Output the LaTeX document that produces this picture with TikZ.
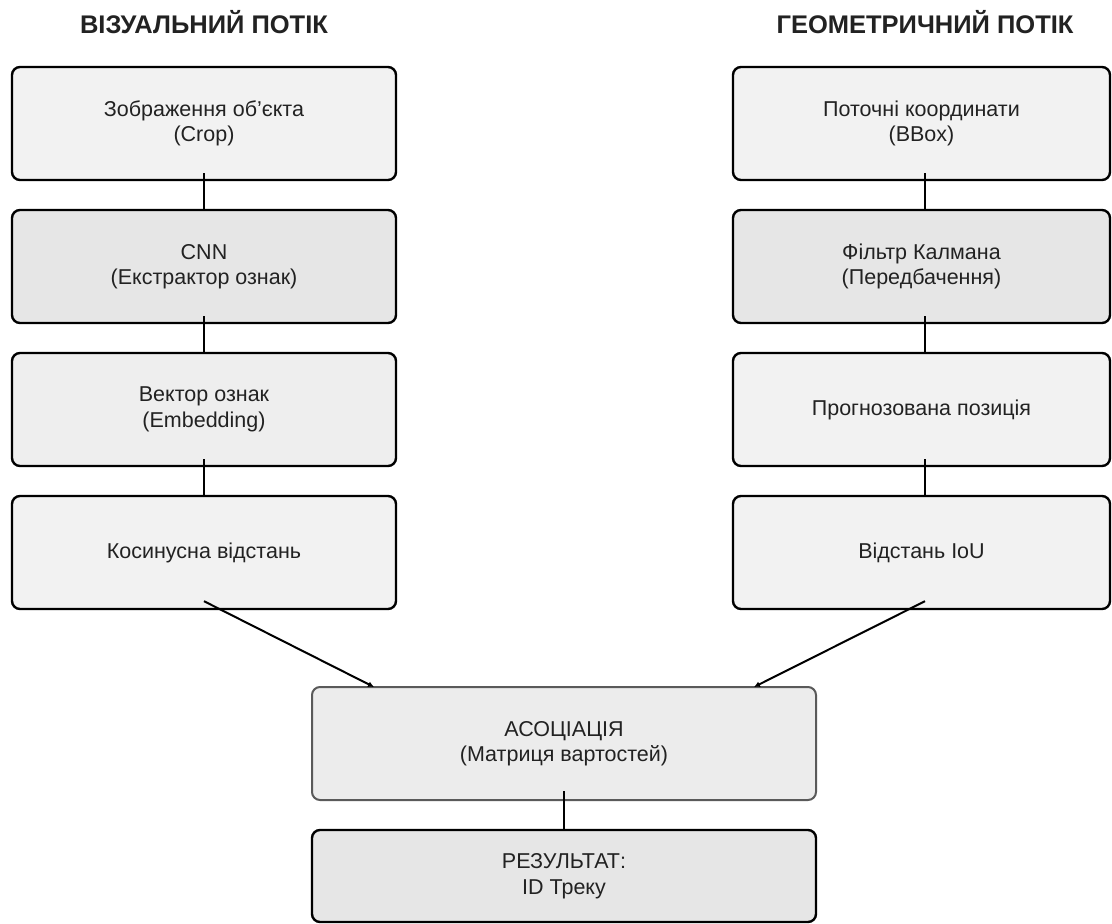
\documentclass[tikz,border=0pt]{standalone}
\usepackage{fontspec}
\setmainfont{Liberation Sans}
\usetikzlibrary{arrows.meta}
\definecolor{boxlight}{HTML}{F2F2F2}
\definecolor{boxmid}{HTML}{E6E6E6}
\definecolor{boxvec}{HTML}{EEEEEE}
\definecolor{boxassoc}{HTML}{ECECEC}
\definecolor{assocborder}{HTML}{5A5A5A}
\definecolor{txt}{HTML}{222222}
\tikzset{
  stepbox/.style={draw=black, line width=2.4pt, rounded corners=8pt, rectangle,
    minimum height=113pt, inner sep=0pt, align=center, text=txt,
    font=\fontsize{21.5}{25.5}\selectfont},
  leftbox/.style={stepbox, minimum width=384pt},
  rightbox/.style={stepbox, minimum width=377pt},
  title/.style={font=\fontsize{25.5}{30}\selectfont\bfseries, text=txt},
  conn/.style={draw=black, line width=2pt},
  diag/.style={draw=black, line width=2pt, -{Latex[length=6pt,width=6pt]}}
}
\begin{document}
\begin{tikzpicture}[x=1pt,y=-1pt]
\useasboundingbox (0,0) rectangle (1112,924);
\node[title] (tl) at (204,22) {ВІЗУАЛЬНИЙ ПОТІК};
\node[title] (tr) at (925,22) {ГЕОМЕТРИЧНИЙ ПОТІК};

\node[leftbox, fill=boxlight] (l1) at (204,123.5) {Зображення об\symbol{39}єкта\\(Crop)};
\node[leftbox, fill=boxmid] (l2) at (204,266.5) {CNN\\(Екстрактор ознак)};
\node[leftbox, fill=boxvec] (l3) at (204,409.5) {Вектор ознак\\(Embedding)};
\node[leftbox, fill=boxlight] (l4) at (204,552.5) {Косинусна відстань};

\node[rightbox, fill=boxlight] (r1) at (921.5,123.5) {Поточні координати\\(BBox)};
\node[rightbox, fill=boxmid] (r2) at (921.5,266.5) {Фільтр Калмана\\(Передбачення)};
\node[rightbox, fill=boxlight] (r3) at (921.5,409.5) {Прогнозована позиція};
\node[rightbox, fill=boxlight] (r4) at (921.5,552.5) {Відстань IoU};

\node[stepbox, draw=assocborder, line width=2pt, fill=boxassoc, minimum width=504pt] (a) at (564,743.5) {АСОЦІАЦІЯ\\(Матриця вартостей)};
\node[stepbox, fill=boxmid, minimum width=504pt, minimum height=92pt] (res) at (564,876) {РЕЗУЛЬТАТ:\\ID Треку};

\draw[conn] ([yshift=8pt]l1.south) -- (l2.north);
\draw[conn] ([yshift=8pt]l2.south) -- (l3.north);
\draw[conn] ([yshift=8pt]l3.south) -- (l4.north);
\draw[conn] ([xshift=3.5pt,yshift=8pt]r1.south) -- ([xshift=3.5pt]r2.north);
\draw[conn] ([xshift=3.5pt,yshift=8pt]r2.south) -- ([xshift=3.5pt]r3.north);
\draw[conn] ([xshift=3.5pt,yshift=8pt]r3.south) -- ([xshift=3.5pt]r4.north);
\draw[conn] ([yshift=10pt]a.south) -- (res.north);
\coordinate (lend) at (374,687);
\coordinate (rend) at (754,687);
\draw[diag] ([yshift=9pt]l4.south) -- (lend);
\draw[diag] ([xshift=3.5pt,yshift=9pt]r4.south) -- (rend);
\end{tikzpicture}
\end{document}
